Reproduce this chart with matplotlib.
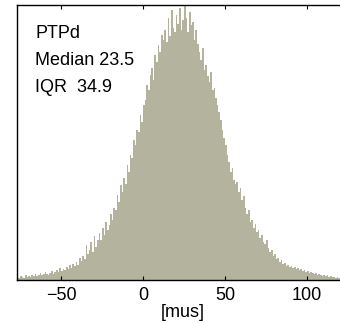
import matplotlib
matplotlib.use("Agg")
import matplotlib.pyplot as plt
import numpy as np

plt.rcParams['font.family'] = ['Liberation Sans', 'DejaVu Sans']

# histogram bins (1 mus wide, left edge of first bin at -77)
bin_start = -77
counts = [
    3, 2, 4, 3, 2, 5, 3, 4, 3, 5,
    4, 6, 4, 5, 7, 5, 6, 8, 6, 5,
    7, 9, 6, 8, 10, 8, 12, 9, 11, 10,
    13, 11, 15, 12, 16, 14, 18, 15, 22, 19,
    24, 21, 35, 26, 30, 38, 28, 44, 33, 40,
    47, 40, 52, 45, 58, 50, 55, 66, 60, 72,
    70, 85, 78, 95, 88, 102, 96, 115, 108, 125,
    122, 140, 135, 150, 148, 165, 158, 175, 180, 195,
    190, 205, 212, 200, 225, 218, 235, 228, 245, 240,
    250, 238, 262, 244, 270, 252, 248, 265, 256, 272,
    250, 260, 275, 262, 248, 268, 255, 258, 240, 250,
    236, 228, 220, 232, 210, 215, 204, 198, 208, 190,
    192, 182, 175, 168, 160, 150, 142, 135, 125, 118,
    108, 112, 100, 96, 98, 88, 92, 80, 84, 72,
    66, 70, 58, 60, 52, 56, 48, 50, 42, 45,
    38, 36, 40, 32, 28, 30, 24, 26, 21, 22,
    18, 20, 16, 17, 14, 15, 13, 14, 12, 13,
    11, 12, 10, 11, 9, 10, 8, 9, 7, 8,
    7, 6, 7, 5, 6, 5, 4, 5, 4, 5,
    3, 4, 3, 3, 2, 3, 2, 2, 3, 2,
    2, 1, 2, 2, 1, 2,
]
xticks = [-50, 0, 50, 100]
xticklabels = ['\u221250', '0', '50', '100']
label_lines = ["PTPd", "Median 23.5", "IQR  34.9"]

fig = plt.figure(figsize=(3.4, 3.23), dpi=100)
# axes runs a little past the right edge of the picture (no right border seen)
ax = fig.add_axes([17 / 340, 43 / 323, 332 / 340, 275 / 323])

edges = bin_start + np.arange(len(counts))
ax.bar(edges, counts, width=1.0, align='edge', color='#b3b39e', linewidth=0)

ax.set_xlim(-76.8, 125.6)
ax.set_ylim(0, max(counts))
ax.set_xticks(xticks)
ax.set_xticklabels(xticklabels)
ax.set_yticks([])
ax.tick_params(axis='x', direction='in', top=True, length=3, width=0.8,
               labelsize=13, pad=5)
ax.spines['right'].set_visible(False)
for s in ['left', 'top', 'bottom']:
    ax.spines[s].set_linewidth(1.0)

ax.set_xlabel('[mus]', fontsize=13, labelpad=0)

for i, line in enumerate(label_lines):
    ax.text(0.055, 0.895 - i * 0.097, line, transform=ax.transAxes,
            fontsize=13, va='center', ha='left')

fig.savefig('out.png', dpi=100)
